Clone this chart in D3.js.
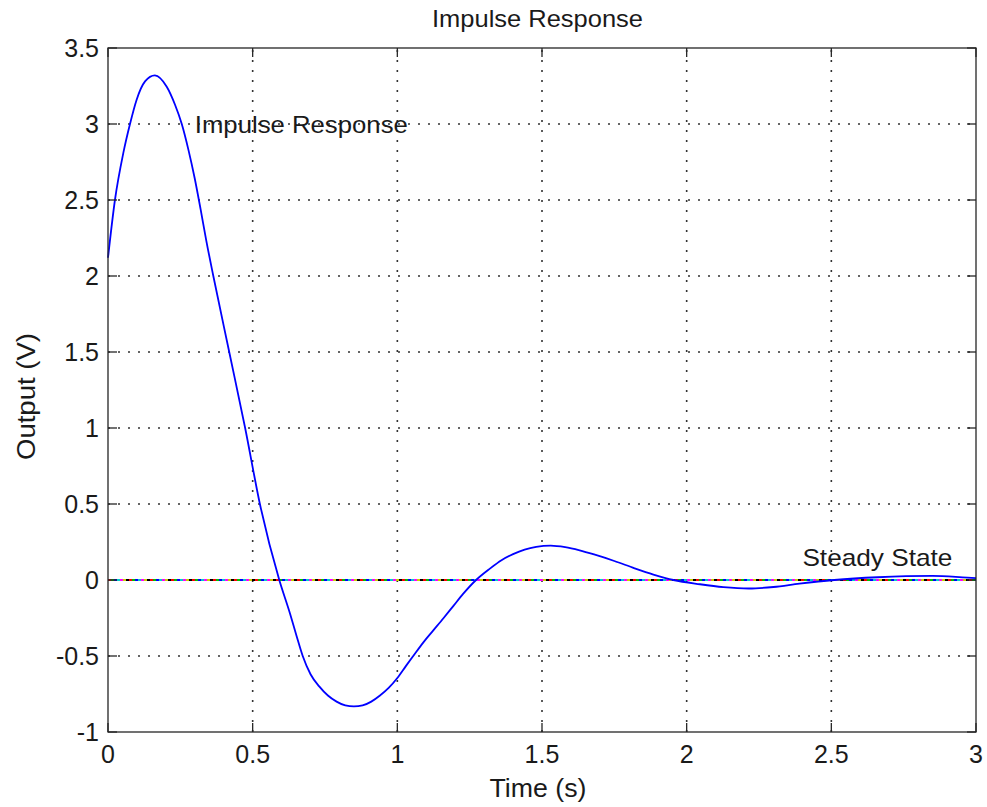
<!DOCTYPE html>
<html>
<head>
<meta charset="utf-8">
<script src="https://cdn.jsdelivr.net/npm/d3@7/dist/d3.min.js"></script>
<style>
  html, body { margin: 0; padding: 0; background: #fff; }
  svg { display: block; }
  text { font-family: "Liberation Sans", Arial, sans-serif; fill: #1a1a1a; }
</style>
</head>
<body>
<svg id="chart" width="987" height="807"></svg>
<script>
// ---- data ----
const time = [0, 0.024, 0.053, 0.076, 0.099, 0.128, 0.162, 0.203, 0.232, 0.255, 0.278, 0.30, 0.32, 0.34,
  0.364, 0.419, 0.474, 0.525, 0.592, 0.629, 0.652, 0.673, 0.70, 0.73, 0.76, 0.79, 0.82, 0.85, 0.88, 0.91,
  0.94, 0.97, 1.0, 1.03, 1.055, 1.09, 1.125, 1.16, 1.194, 1.228, 1.272, 1.32, 1.36, 1.40, 1.44, 1.48,
  1.53, 1.58, 1.63, 1.68, 1.75, 1.82, 1.885, 1.954, 2.046, 2.127, 2.215, 2.30, 2.39, 2.51, 2.66, 2.85,
  2.97, 3.0];
const output = [2.12, 2.5, 2.81, 3.0, 3.16, 3.28, 3.32, 3.245, 3.125, 3.0, 2.83, 2.64, 2.44, 2.23,
  2.0, 1.5, 1.0, 0.5, 0.0, -0.22, -0.37, -0.5, -0.62, -0.70, -0.76, -0.80, -0.825, -0.832, -0.825, -0.8,
  -0.76, -0.71, -0.645, -0.565, -0.5, -0.41, -0.33, -0.25, -0.17, -0.09, 0.0, 0.075, 0.13, 0.17, 0.2, 0.218,
  0.226, 0.216, 0.195, 0.168, 0.125, 0.077, 0.036, 0.0, -0.028, -0.047, -0.056, -0.046, -0.024, 0.0, 0.018, 0.027,
  0.015, 0.012];
const steadyValue = 0;
const steadyColors = ["#ff0000", "#00c000", "#0000ff", "#00cccc", "#ff00ff", "#cccc00", "#000000"];
const xTicks = [0, 0.5, 1, 1.5, 2, 2.5, 3];
const xTickLabels = ["0", "0.5", "1", "1.5", "2", "2.5", "3"];
const yTicks = [-1, -0.5, 0, 0.5, 1, 1.5, 2, 2.5, 3, 3.5];
const yTickLabels = ["-1", "-0.5", "0", "0.5", "1", "1.5", "2", "2.5", "3", "3.5"];
const titleText = "Impulse Response";
const xLabel = "Time (s)";
const yLabel = "Output (V)";
const annotations = [
  { t: 0.3, v: 3.0, text: "Impulse Response", len: 213 },
  { t: 2.4, v: 0.15, text: "Steady State", len: 150 }
];

// ---- layout ----
const L = 108, R = 976, T = 48, B = 732;
const x = d3.scaleLinear().domain([0, 3]).range([L, R]);
const y = d3.scaleLinear().domain([-1, 3.5]).range([B, T]);

const svg = d3.select("#chart");

// grid
const grid = svg.append("g").attr("stroke", "#333").attr("stroke-width", 1.6).attr("stroke-dasharray", "2,8");
grid.selectAll("line.v").data(xTicks.filter(d => d > 0 && d < 3)).join("line")
  .attr("class", "v")
  .attr("x1", d => x(d)).attr("x2", d => x(d)).attr("y1", B).attr("y2", T);
grid.selectAll("line.h").data(yTicks.filter(d => d > -1 && d < 3.5)).join("line")
  .attr("class", "h")
  .attr("x1", L).attr("x2", R).attr("y1", d => y(d)).attr("y2", d => y(d));

// steady state multicoloured dash-dot line
const ss = svg.append("g");
steadyColors.forEach((c, i) => {
  ss.append("line")
    .attr("x1", L).attr("x2", R).attr("y1", y(steadyValue)).attr("y2", y(steadyValue))
    .attr("stroke", c).attr("stroke-width", 1.8)
    .attr("stroke-dasharray", "3," + (steadyColors.length * 3 - 3))
    .attr("stroke-dashoffset", -i * 3);
});

// response curve
const line = d3.line().x((d, i) => x(time[i])).y(d => y(d)).curve(d3.curveMonotoneX);
svg.append("path").datum(output)
  .attr("d", line)
  .attr("fill", "none").attr("stroke", "#0000ff").attr("stroke-width", 1.8);

// axes box
const axisColor = "#262626";
const ax = svg.append("g").attr("stroke", axisColor).attr("stroke-width", 1.3);
ax.append("rect").attr("x", L).attr("y", T).attr("width", R - L).attr("height", B - T).attr("fill", "none");
const tl = 9;
xTicks.forEach(d => {
  ax.append("line").attr("x1", x(d)).attr("x2", x(d)).attr("y1", B).attr("y2", B - tl);
  ax.append("line").attr("x1", x(d)).attr("x2", x(d)).attr("y1", T).attr("y2", T + tl);
});
yTicks.forEach(d => {
  ax.append("line").attr("x1", L).attr("x2", L + tl).attr("y1", y(d)).attr("y2", y(d));
  ax.append("line").attr("x1", R).attr("x2", R - tl).attr("y1", y(d)).attr("y2", y(d));
});

// tick labels
svg.append("g").selectAll("text").data(xTicks).join("text")
  .attr("x", d => x(d)).attr("y", 763).attr("text-anchor", "middle")
  .style("font-size", "25px").text((d, i) => xTickLabels[i]);
svg.append("g").selectAll("text").data(yTicks).join("text")
  .attr("x", 99).attr("y", d => y(d) + 9).attr("text-anchor", "end")
  .style("font-size", "25px").text((d, i) => yTickLabels[i]);

// title & labels
svg.append("text").attr("x", 537.5).attr("y", 27).attr("text-anchor", "middle")
  .attr("textLength", 211).attr("lengthAdjust", "spacingAndGlyphs")
  .style("font-size", "24px").text(titleText);
svg.append("text").attr("x", 538).attr("y", 797).attr("text-anchor", "middle")
  .attr("textLength", 97).attr("lengthAdjust", "spacingAndGlyphs")
  .style("font-size", "25px").text(xLabel);
svg.append("text").attr("transform", "translate(35,396.5) rotate(-90)").attr("text-anchor", "middle")
  .attr("textLength", 127).attr("lengthAdjust", "spacingAndGlyphs")
  .style("font-size", "25px").text(yLabel);

// annotations
svg.append("g").selectAll("text").data(annotations).join("text")
  .attr("x", d => x(d.t)).attr("y", d => y(d.v) + 8.5)
  .attr("textLength", d => d.len).attr("lengthAdjust", "spacingAndGlyphs")
  .style("font-size", "24px").text(d => d.text);
</script>
</body>
</html>
